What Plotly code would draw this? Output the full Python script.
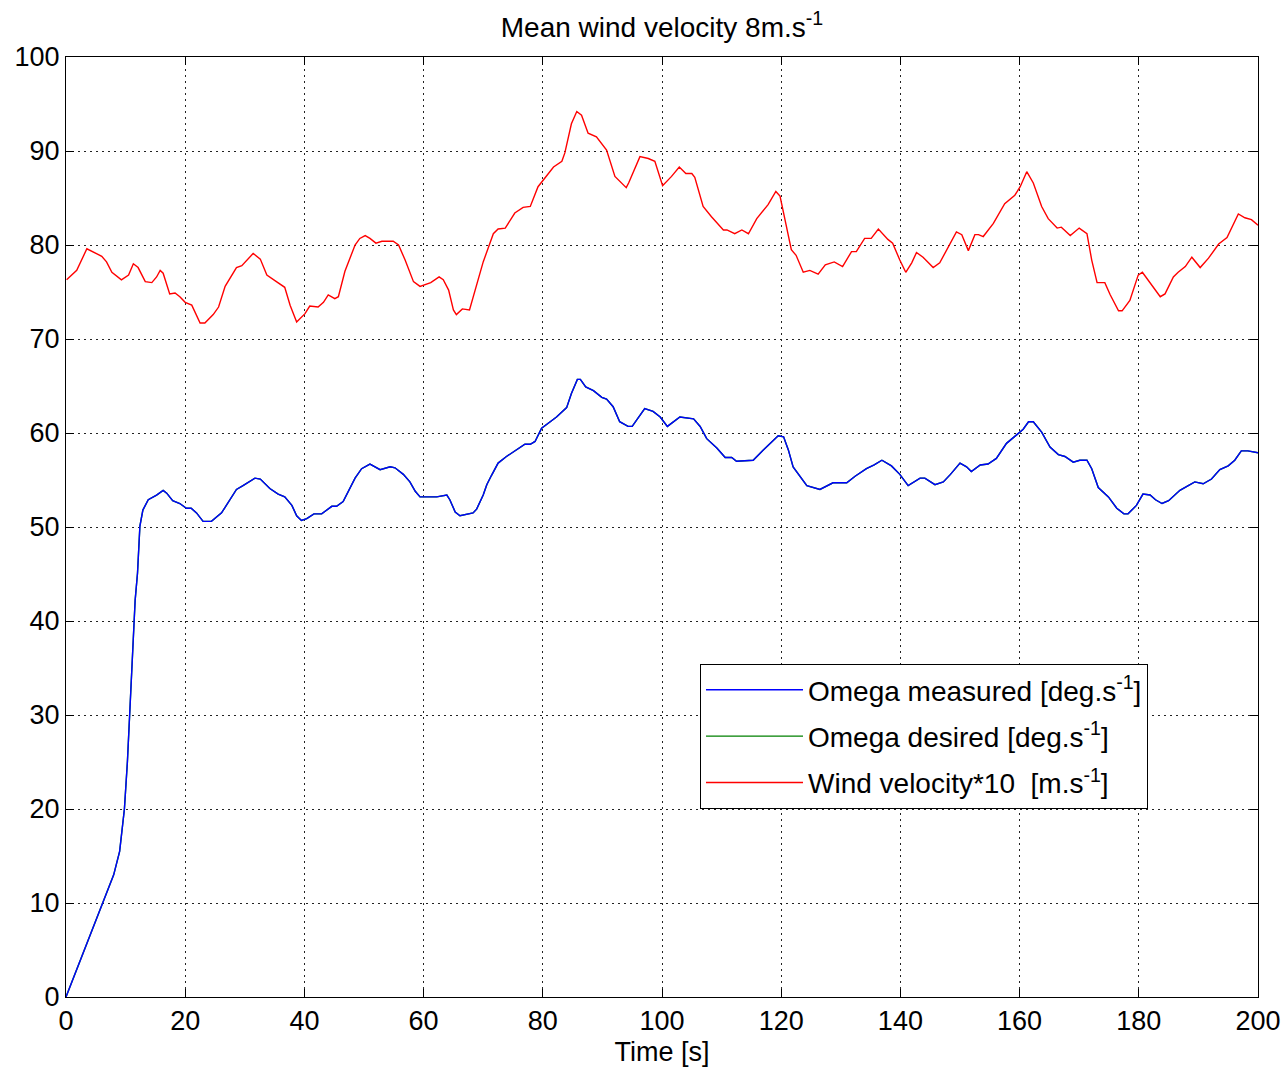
import plotly.graph_objects as go

# Wind velocity*10 [m.s^-1]
wind_t = [0.1, 1.8, 3.5, 6.0, 6.8, 7.7, 9.3, 10.5, 11.3, 12.1, 13.3, 14.4, 15.2, 15.8, 16.3, 17.4, 18.3, 19.1, 20.0,
          21.1, 22.5, 23.3, 24.7, 25.6, 26.7, 28.6, 29.5, 31.4, 32.6, 33.7, 35.3, 36.7, 37.6, 38.7, 40.1, 40.9, 42.3,
          43.2, 44.0, 45.1, 45.7, 46.8, 48.5, 49.3, 50.2, 51.0, 52.0, 53.0, 54.9, 55.8, 56.9, 58.3, 59.4, 61.2, 62.6,
          63.3, 64.2, 65.0, 65.5, 66.5, 67.7, 68.6, 70.0, 71.7, 72.5, 73.7, 75.3, 76.7, 77.9, 79.2, 80.4, 81.8, 83.2,
          83.7, 84.8, 85.7, 86.5, 87.6, 89.0, 90.7, 92.1, 94.0, 94.4, 96.3, 97.7, 98.8, 100.1, 101.6, 102.9, 104.0,
          105.0, 105.5, 106.9, 108.3, 110.3, 110.9, 112.2, 113.4, 114.5, 115.9, 117.8, 119.1, 119.8, 120.6, 121.7,
          122.5, 123.7, 124.8, 126.2, 127.4, 128.9, 130.3, 131.8, 132.6, 134.0, 135.1, 136.3, 137.9, 138.7, 139.9,
          140.9, 141.9, 142.7, 143.8, 145.5, 146.6, 148.0, 149.4, 150.3, 151.4, 152.5, 153.1, 153.9, 155.6, 157.5,
          159.2, 160.1, 161.2, 162.3, 163.7, 164.8, 166.3, 167.0, 168.5, 170.0, 171.3, 172.1, 173.0, 174.3, 175.2,
          176.6, 177.2, 178.5, 179.9, 180.6, 182.4, 183.6, 184.4, 185.8, 186.6, 187.8, 188.9, 190.3, 191.7, 193.4,
          194.8, 195.6, 196.7, 197.8, 198.9, 200.0]
wind_v = [76.3, 77.3, 79.6, 78.8, 78.2, 77.1, 76.3, 76.8, 78.0, 77.6, 76.1, 76.0, 76.6, 77.3, 77.0, 74.8, 74.9, 74.5, 73.9,
          73.6, 71.7, 71.7, 72.6, 73.4, 75.6, 77.6, 77.8, 79.1, 78.5, 76.8, 76.1, 75.5, 73.6, 71.8, 72.7, 73.5, 73.4,
          73.9, 74.7, 74.3, 74.5, 77.2, 80.0, 80.7, 81.0, 80.7, 80.2, 80.4, 80.4, 80.0, 78.4, 76.1, 75.6, 76.0, 76.6,
          76.3, 75.2, 73.1, 72.6, 73.2, 73.1, 75.2, 78.2, 81.2, 81.7, 81.8, 83.4, 84.0, 84.1, 86.2, 87.2, 88.3, 88.9,
          89.8, 92.9, 94.2, 93.8, 91.9, 91.5, 90.1, 87.3, 86.1, 86.6, 89.4, 89.2, 88.9, 86.3, 87.3, 88.3, 87.6,
          87.6, 87.2, 84.1, 83.0, 81.6, 81.6, 81.2, 81.6, 81.2, 82.8, 84.3, 85.7, 85.2, 82.7, 79.5,
          78.9, 77.1, 77.3, 76.9, 77.9, 78.2, 77.7, 79.3, 79.3, 80.7, 80.7, 81.7, 80.6, 80.2, 78.4,
          77.1, 78.1, 79.2, 78.7, 77.6, 78.1, 79.8, 81.4, 81.1, 79.4, 81.1, 81.1, 80.9, 82.3, 84.4,
          85.3, 86.2, 87.8, 86.6, 84.1, 82.8, 81.8, 81.9, 81.0, 81.8, 81.2, 78.4, 76.0, 76.0, 74.7,
          73.0, 73.0, 74.1, 76.8, 77.1, 75.5, 74.5, 74.8, 76.6, 77.1, 77.7, 78.7, 77.6, 78.6, 80.1,
          80.8, 81.8, 83.3, 82.9, 82.7, 82.1]

# Omega measured [deg.s^-1]
omega_t = [0.0, 4.0, 8.0, 9.0, 9.8, 10.3, 10.8, 11.3, 11.6, 12.0, 12.4, 12.9, 13.8, 15.2, 16.3, 16.9, 17.9, 19.1, 20.2,
           21.0, 21.9, 23.0, 24.4, 26.1, 26.9, 28.6, 29.7, 31.7, 32.6, 34.2, 35.6, 36.7, 37.9, 38.7, 39.5, 40.4, 41.6,
           42.9, 44.6, 45.4, 46.5, 47.4, 48.5, 49.6, 51.0, 52.7, 54.4, 55.2, 56.6, 57.7, 58.6, 59.4, 62.2, 63.9, 64.4,
           65.3, 66.1, 68.3, 68.9, 70.0, 70.6, 71.4, 72.5, 73.9, 75.6, 77.0, 77.9, 78.7, 79.8, 80.9, 82.3, 84.0, 84.8,
           85.8, 86.3, 87.2, 88.5, 89.9, 90.7, 91.8, 92.9, 94.3, 95.0, 96.0, 97.1, 98.5, 99.7, 100.9, 101.9, 103.0,
           105.3, 106.4, 107.5, 109.2, 110.6, 111.7, 112.5, 115.3, 117.0, 119.5, 120.4, 121.2, 122.0, 123.2, 124.3,
           126.5, 128.7, 131.0, 132.4, 134.3, 135.6, 136.9, 138.5, 139.9, 141.3, 143.3, 144.1, 145.8, 147.2, 148.4,
           150.0, 151.1, 151.9, 153.4, 154.7, 156.1, 157.8, 159.5, 160.6, 161.5, 162.3, 163.7, 165.1, 166.5, 167.6,
           169.0, 170.1, 171.3, 172.1, 173.2, 174.9, 176.3, 177.5, 178.2, 179.6, 180.7, 181.9, 182.8, 183.9, 185.0,
           186.9, 188.3, 189.4, 190.8, 192.2, 193.6, 195.0, 196.1, 197.2, 198.3, 199.6, 200.0]
omega_v = [0.0, 6.6, 13.0, 15.5, 20.0, 25.0, 32.0, 39.0, 42.2, 45.1, 50.1, 51.8, 52.9, 53.4, 53.9, 53.6, 52.8, 52.5, 52.0,
           52.0, 51.5, 50.6, 50.6, 51.5, 52.3, 54.0, 54.4, 55.2, 55.1, 54.1, 53.5, 53.2, 52.3, 51.2, 50.7, 50.9, 51.4,
           51.4, 52.2, 52.2, 52.7, 53.8, 55.2, 56.2, 56.7, 56.1, 56.4, 56.3, 55.6, 54.8, 53.8, 53.2, 53.2, 53.4, 52.9,
           51.6, 51.2, 51.5, 51.9, 53.4, 54.5, 55.5, 56.8, 57.5, 58.2, 58.8, 58.8, 59.1, 60.5, 61.0, 61.7, 62.7, 64.2,
           65.7, 65.7, 64.9, 64.5, 63.8, 63.6, 62.8, 61.2, 60.7, 60.7, 61.6, 62.6, 62.3, 61.7, 60.7, 61.2, 61.7,
           61.5, 60.7, 59.4, 58.4, 57.4, 57.4, 57.0, 57.1, 58.2, 59.7, 59.6, 58.2, 56.4, 55.4, 54.4,
           54.0, 54.7, 54.7, 55.4, 56.2, 56.6, 57.1, 56.5, 55.6, 54.4, 55.2, 55.2, 54.5, 54.8, 55.6,
           56.8, 56.4, 55.9, 56.6, 56.7, 57.3, 58.9, 59.8, 60.4, 61.2, 61.2, 60.1, 58.5, 57.7, 57.5,
           56.9, 57.1, 57.1, 56.2, 54.2, 53.2, 52.0, 51.4, 51.4, 52.3, 53.5, 53.4, 52.9, 52.5, 52.8,
           53.9, 54.4, 54.8, 54.6, 55.1, 56.1, 56.5, 57.1, 58.1, 58.1, 58.0, 57.9]

# Omega desired [deg.s^-1] (drawn underneath, hidden by the measured curve)
desired_t = omega_t
desired_v = omega_v

x_ticks = [0, 20, 40, 60, 80, 100, 120, 140, 160, 180, 200]
y_ticks = [0, 10, 20, 30, 40, 50, 60, 70, 80, 90, 100]

FONT = "Liberation Sans, Arial, sans-serif"
FS = 27

fig = go.Figure()
fig.add_trace(go.Scatter(x=desired_t, y=desired_v, mode="lines", name="Omega desired [deg.s<sup>-1</sup>]",
                         legendgroup="b", line=dict(color="#008000", width=1.4), legendrank=2))
fig.add_trace(go.Scatter(x=omega_t, y=omega_v, mode="lines", name="Omega measured [deg.s<sup>-1</sup>]",
                         legendgroup="a", line=dict(color="#0000ff", width=1.4), legendrank=1))
fig.add_trace(go.Scatter(x=wind_t, y=wind_v, mode="lines", name="Wind velocity*10  [m.s<sup>-1</sup>]",
                         legendgroup="c", line=dict(color="#ff0000", width=1.4), legendrank=3))

axis_common = dict(
    showline=True, linecolor="black", linewidth=1, mirror="ticks",
    ticks="inside", ticklen=8, tickcolor="black",
    showgrid=True, gridcolor="#222222", gridwidth=1, griddash="1.5px,4.5px",
    zeroline=False, automargin=False, tickfont=dict(family=FONT, size=FS, color="black"),
)

fig.update_layout(
    width=1285, height=1073,
    margin=dict(l=66, r=27, t=57, b=76, autoexpand=False),
    paper_bgcolor="white", plot_bgcolor="white",
    font=dict(family=FONT, color="black"),
    title=dict(text="Mean wind velocity 8m.s<sup>-1</sup>", x=0.5, xref="paper", xanchor="center",
               y=1 - 27 / 1073, yanchor="middle", font=dict(family=FONT, size=28, color="black")),
    xaxis=dict(range=[0, 200], tickvals=x_ticks, ticktext=[str(v) for v in x_ticks],
               title=dict(text="Time [s]", font=dict(family=FONT, size=FS, color="black"), standoff=6),
               **axis_common),
    yaxis=dict(range=[0, 100], tickvals=y_ticks, ticktext=[str(v) for v in y_ticks], **axis_common),
    legend=dict(x=(700 - 66) / 1192, y=(997 - 664) / 940, xanchor="left", yanchor="top",
                bgcolor="white", bordercolor="black", borderwidth=1,
                font=dict(family=FONT, size=28, color="black"), itemwidth=97,
                tracegroupgap=7, traceorder="grouped"),
    showlegend=True,
)

fig.write_html("out.html")
